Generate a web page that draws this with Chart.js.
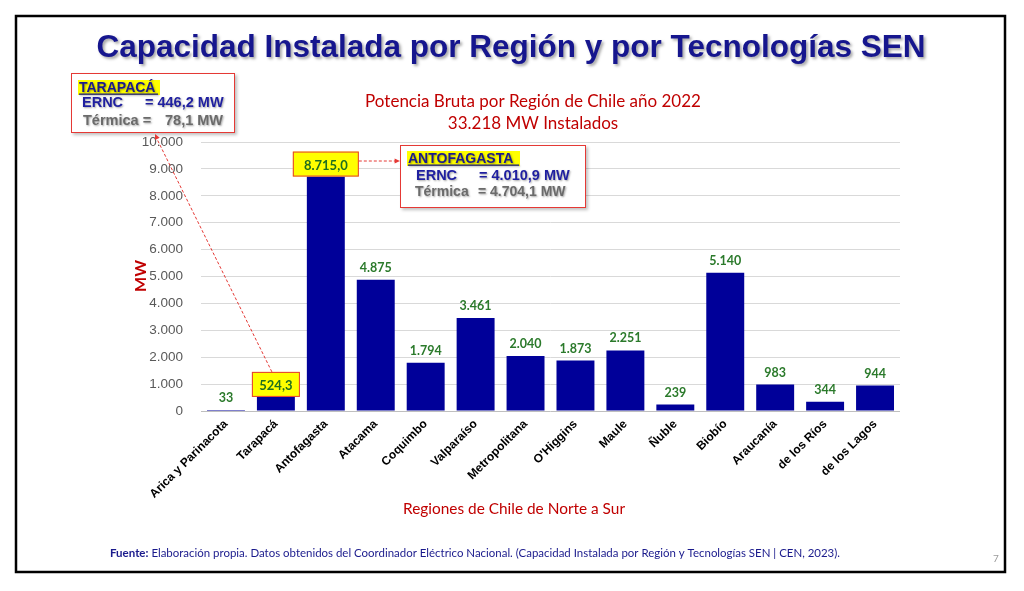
<!DOCTYPE html>
<html><head><meta charset="utf-8">
<script src="https://cdn.jsdelivr.net/npm/chart.js@4"></script>
<style>html,body{margin:0;padding:0;background:#fff;}canvas{display:block}</style>
</head><body>
<canvas id="c" width="1024" height="591" style="width:1024px;height:591px"></canvas>
<script>
// ---- data ----
const regiones = ["Arica y Parinacota","Tarapacá","Antofagasta","Atacama","Coquimbo","Valparaíso","Metropolitana","O'Higgins","Maule","Ñuble","Biobío","Araucanía","de los Ríos","de los Lagos"];
const potenciaMW = [33, 524.3, 8715.0, 4875, 1794, 3461, 2040, 1873, 2251, 239, 5140, 983, 344, 944];
const destacados = [1, 2]; // bars whose label is shown in a yellow box with one decimal
const yMin = 0, yMax = 10000, yStep = 1000;
const tarapacaERNC = 446.2, tarapacaTermica = 78.1;
const antofagastaERNC = 4010.9, antofagastaTermica = 4704.1;

function fmtNum(v, dec){
  const s = v.toFixed(dec);
  let [i, f] = s.split('.');
  i = i.replace(/\B(?=(\d{3})+(?!\d))/g, '.');
  return f ? i + ',' + f : i;
}

function txt(ctx, s, x, y, font, color, align, maxW){
  ctx.font = font; ctx.fillStyle = color; ctx.textAlign = align || 'left'; ctx.textBaseline = 'alphabetic';
  if (maxW) ctx.fillText(s, x, y, maxW); else ctx.fillText(s, x, y);
}

function arrowHead(ctx, x1, y1, x2, y2, size, color){
  const a = Math.atan2(y2 - y1, x2 - x1);
  ctx.save(); ctx.fillStyle = color; ctx.setLineDash([]);
  ctx.beginPath();
  ctx.moveTo(x2, y2);
  ctx.lineTo(x2 - size*Math.cos(a - 0.45), y2 - size*Math.sin(a - 0.45));
  ctx.lineTo(x2 - size*Math.cos(a + 0.45), y2 - size*Math.sin(a + 0.45));
  ctx.closePath(); ctx.fill(); ctx.restore();
}

const deco = {
  id: 'deco',
  beforeDraw(chart){
    const ctx = chart.ctx;
    ctx.save(); ctx.fillStyle = '#fff'; ctx.fillRect(0,0,chart.width,chart.height); ctx.restore();
  },
  afterDraw(chart){
    const ctx = chart.ctx;
    ctx.save();
    // frame
    ctx.strokeStyle = '#000'; ctx.lineWidth = 2.5;
    ctx.strokeRect(16, 16, 989, 556);

    // main title with shadow
    ctx.save();
    ctx.shadowColor = 'rgba(0,0,0,0.35)'; ctx.shadowOffsetX = 2; ctx.shadowOffsetY = 2; ctx.shadowBlur = 3;
    txt(ctx, 'Capacidad Instalada por Región y por Tecnologías SEN', 511, 57, 'bold 31.5px "Liberation Sans"', '#16168e', 'center', 830);
    ctx.restore();

    // chart title (red)
    txt(ctx, 'Potencia Bruta por Región de Chile año 2022', 533, 107, '17px Lato', '#c00000', 'center', 340);
    txt(ctx, '33.218 MW Instalados', 533, 129, '17px Lato', '#c00000', 'center');

    // axis titles
    ctx.save();
    ctx.translate(146, 276); ctx.rotate(-Math.PI/2);
    txt(ctx, 'MW', 0, 0, 'bold 16px Lato', '#c00000', 'center');
    ctx.restore();
    txt(ctx, 'Regiones de Chile de Norte a Sur', 514, 514, '16px Lato', '#c00000', 'center', 222);

    // data labels
    const meta = chart.getDatasetMeta(0);
    meta.data.forEach((bar, i) => {
      const v = potenciaMW[i];
      if (destacados.includes(i)) return;
      txt(ctx, fmtNum(v, 0), bar.x, bar.y - 8, 'bold 12.5px Lato', '#2b7a2b', 'center');
    });
    // highlighted labels in yellow boxes
    const boxLabel = (i, w) => {
      const bar = meta.data[i];
      const h = 25;
      const x = bar.x - w/2, y = bar.y - h;
      ctx.fillStyle = '#ffff00'; ctx.fillRect(x, y, w, h);
      ctx.strokeStyle = '#e53935'; ctx.lineWidth = 1; ctx.strokeRect(x+0.5, y+0.5, w-1, h-1);
      txt(ctx, fmtNum(potenciaMW[i], 1), bar.x, y + 18, 'bold 13px Lato', '#1f6e1f', 'center');
      return {x, y, w, h};
    };
    const bT = boxLabel(1, 48);
    const bA = boxLabel(2, 66);

    // Tarapacá callout
    ctx.save();
    ctx.shadowColor = 'rgba(0,0,0,0.25)'; ctx.shadowOffsetX = 2; ctx.shadowOffsetY = 2; ctx.shadowBlur = 3;
    ctx.fillStyle = '#fff'; ctx.fillRect(71, 73, 164, 60);
    ctx.restore();
    ctx.strokeStyle = '#e53935'; ctx.lineWidth = 1; ctx.strokeRect(71.5, 73.5, 163, 59);
    ctx.fillStyle = '#ffff00'; ctx.fillRect(78, 80, 82, 15);
    ctx.save();
    ctx.shadowColor = 'rgba(0,0,0,0.35)'; ctx.shadowOffsetX = 1; ctx.shadowOffsetY = 1; ctx.shadowBlur = 2;
    txt(ctx, 'TARAPACÁ', 79, 92, 'bold 14px "Liberation Sans"', '#1a1a8c', 'left');
    ctx.fillStyle = '#1a1a8c'; ctx.fillRect(79, 93.5, 79, 1.3);
    txt(ctx, 'ERNC', 82, 107, 'bold 14.5px "Liberation Sans"', '#1f1fa0', 'left');
    txt(ctx, '= ' + fmtNum(tarapacaERNC, 1) + ' MW', 145, 107, 'bold 14.5px "Liberation Sans"', '#1f1fa0', 'left');
    txt(ctx, 'Térmica =', 83, 125, 'bold 14.5px "Liberation Sans"', '#6b6b6b', 'left');
    txt(ctx, fmtNum(tarapacaTermica, 1) + ' MW', 165, 125, 'bold 14.5px "Liberation Sans"', '#6b6b6b', 'left');
    ctx.restore();

    // Antofagasta callout
    ctx.save();
    ctx.shadowColor = 'rgba(0,0,0,0.25)'; ctx.shadowOffsetX = 2; ctx.shadowOffsetY = 2; ctx.shadowBlur = 3;
    ctx.fillStyle = '#fff'; ctx.fillRect(400, 145, 186, 63);
    ctx.restore();
    ctx.strokeStyle = '#e53935'; ctx.lineWidth = 1; ctx.strokeRect(400.5, 145.5, 185, 62);
    ctx.fillStyle = '#ffff00'; ctx.fillRect(407, 151, 113, 15);
    ctx.save();
    ctx.shadowColor = 'rgba(0,0,0,0.35)'; ctx.shadowOffsetX = 1; ctx.shadowOffsetY = 1; ctx.shadowBlur = 2;
    txt(ctx, 'ANTOFAGASTA', 408, 163, 'bold 14px "Liberation Sans"', '#1a1a8c', 'left');
    ctx.fillStyle = '#1a1a8c'; ctx.fillRect(408, 164.5, 111, 1.3);
    txt(ctx, 'ERNC', 416, 180, 'bold 14.5px "Liberation Sans"', '#1f1fa0', 'left');
    txt(ctx, '= ' + fmtNum(antofagastaERNC, 1) + ' MW', 479, 180, 'bold 14.5px "Liberation Sans"', '#1f1fa0', 'left');
    txt(ctx, 'Térmica', 415, 196, 'bold 14px "Liberation Sans"', '#6b6b6b', 'left');
    txt(ctx, '= ' + fmtNum(antofagastaTermica, 1) + ' MW', 478, 196, 'bold 14px "Liberation Sans"', '#6b6b6b', 'left');
    ctx.restore();

    // dashed connectors
    ctx.strokeStyle = '#e53935'; ctx.lineWidth = 1; ctx.setLineDash([3, 2]);
    ctx.beginPath(); ctx.moveTo(bA.x + bA.w, 161); ctx.lineTo(395, 161); ctx.stroke();
    arrowHead(ctx, bA.x + bA.w, 161, 400, 161, 6, '#e53935');
    ctx.setLineDash([3, 2]);
    ctx.beginPath(); ctx.moveTo(bT.x + 20, bT.y); ctx.lineTo(157, 139); ctx.stroke();
    arrowHead(ctx, bT.x + 20, bT.y, 155, 134, 6, '#e53935');
    ctx.setLineDash([]);

    // footer
    ctx.font = 'bold 11.5px Lato';
    const fw = ctx.measureText('Fuente:').width;
    txt(ctx, 'Fuente:', 110, 557, 'bold 11.5px Lato', '#1a1a8c', 'left');
    txt(ctx, ' Elaboración propia. Datos obtenidos del Coordinador Eléctrico Nacional. (Capacidad Instalada por Región y Tecnologías SEN | CEN, 2023).', 110 + fw, 557, '11.5px Lato', '#1a1a8c', 'left', 730 - fw);
    txt(ctx, '7', 996, 562, '10px Lato', '#9a9a9a', 'center');
    ctx.restore();
  }
};

new Chart(document.getElementById('c').getContext('2d'), {
  type: 'bar',
  data: {
    labels: regiones,
    datasets: [{ data: potenciaMW, backgroundColor: '#000099', borderWidth: 0, barPercentage: 0.76, categoryPercentage: 1.0 }]
  },
  options: {
    responsive: false, animation: false, devicePixelRatio: 1,
    layout: { padding: { left: 128, right: 124, top: 142, bottom: 70 } },
    plugins: { legend: { display: false }, tooltip: { enabled: false }, title: { display: false } },
    scales: {
      x: {
        grid: { display: false, drawTicks: false }, border: { display: false },
        ticks: { autoSkip: false, minRotation: 45, maxRotation: 45, color: '#000', padding: 6,
                 font: { family: '"Liberation Sans"', weight: 'bold', size: 12 } },
        afterFit(s){ s.height = 110; }
      },
      y: {
        min: yMin, max: yMax,
        grid: { color: c => (c.tick && c.tick.value === 0) ? '#bfbfbf' : '#d9d9d9', drawTicks: false, lineWidth: 1 },
        border: { display: false },
        ticks: { stepSize: yStep, padding: 18, color: '#595959', font: { family: '"Liberation Sans"', size: 13.5 },
                 callback: v => fmtNum(v, 0) },
        afterFit(s){ s.width = 73; }
      }
    }
  },
  plugins: [deco]
});
</script>
</body></html>
